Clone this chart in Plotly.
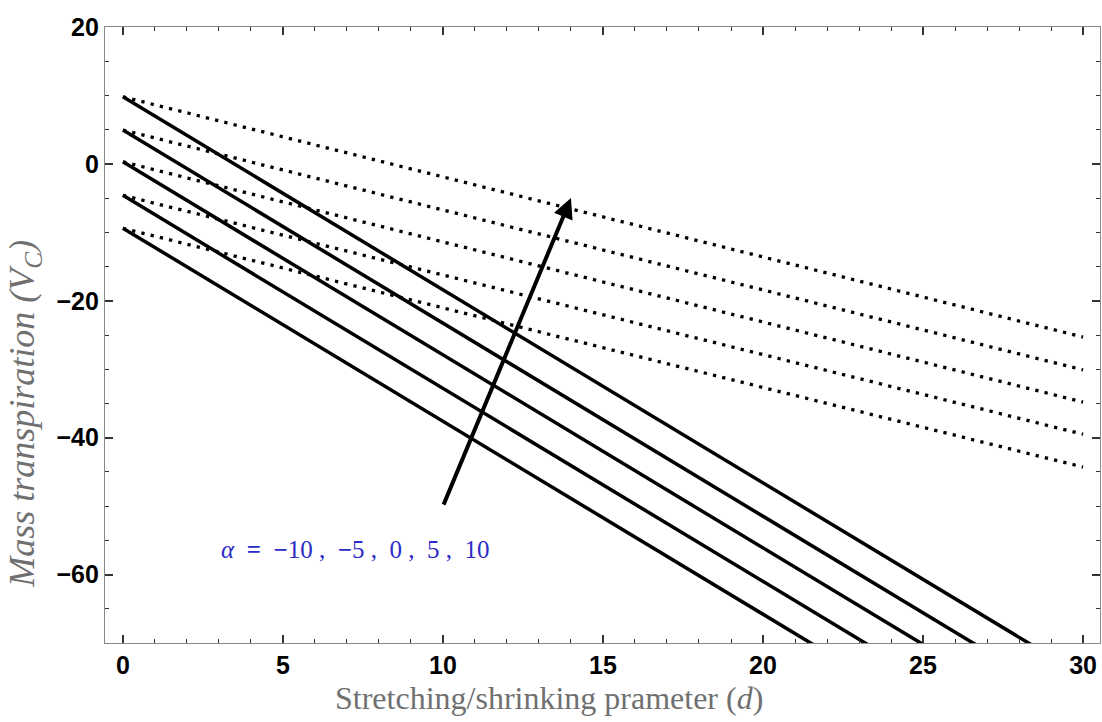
import plotly.graph_objects as go

# Read-off data (values at d = 0, 10, 20, 30)
d_pts = [0, 10, 20, 30]
solid_series = {
    "alpha=10":  [9.8, -18.4, -46.6, -74.8],
    "alpha=5":   [4.95, -23.3, -51.5, -79.7],
    "alpha=0":   [0.3, -27.9, -56.1, -84.3],
    "alpha=-5":  [-4.6, -32.8, -61.0, -89.2],
    "alpha=-10": [-9.4, -37.6, -65.8, -94.0],
}
dotted_series = {
    "alpha=10":  [9.8, -1.9, -13.6, -25.3],
    "alpha=5":   [4.95, -6.7, -18.4, -30.1],
    "alpha=0":   [0.3, -11.4, -23.1, -34.8],
    "alpha=-5":  [-4.6, -16.2, -27.9, -39.5],
    "alpha=-10": [-9.4, -21.0, -32.7, -44.3],
}
x_ticks = [0, 5, 10, 15, 20, 25, 30]
y_ticks = [20, 0, -20, -40, -60]
y_ticktext = ["20", "0", "−20", "−40", "−60"]
arrow_tail = (10, -50)
arrow_head = (14, -5)
label_pos = (7.25, -56.3)
label_text = "<i>α</i>  <b>=</b>  <b>−</b>10 ,  <b>−</b>5 ,  0 ,  5 ,  10"
x_title = "Stretching/shrinking prameter (<i>d</i>)"
y_title = "<i>Mass transpiration (V<sub>C</sub>)</i>"

fig = go.Figure()
for name, ys in solid_series.items():
    fig.add_trace(go.Scatter(x=d_pts, y=ys, mode="lines", name=name,
                             line=dict(color="black", width=3.5), showlegend=False))
for name, ys in dotted_series.items():
    fig.add_trace(go.Scatter(x=d_pts, y=ys, mode="lines", name=name,
                             line=dict(color="black", width=3.3, dash="3.3px,6.2px"),
                             showlegend=False))

fig.add_annotation(x=arrow_head[0], y=arrow_head[1], ax=arrow_tail[0], ay=arrow_tail[1],
                   xref="x", yref="y", axref="x", ayref="y", text="",
                   showarrow=True, arrowhead=2, arrowsize=1.0, arrowwidth=4,
                   arrowcolor="black")
fig.add_annotation(x=label_pos[0], y=label_pos[1], xref="x", yref="y", text=label_text,
                   showarrow=False, font=dict(family="Liberation Serif", size=25, color="#2b2bc8"))
fig.add_annotation(x=0.46, y=1.0, xref="paper", yref="paper", yshift=27, yanchor="bottom",
                   text="(c)", showarrow=False,
                   font=dict(family="Liberation Serif", size=22, color="#555"))
# axis titles
fig.add_annotation(x=13.3, y=0, xref="x", yref="paper", yshift=-55, yanchor="middle",
                   text=x_title, showarrow=False,
                   font=dict(family="Liberation Serif", size=32, color="#707070"))
fig.add_annotation(x=0, y=-36.5, xref="paper", yref="y", xshift=-80, xanchor="center",
                   text=y_title, textangle=-90, showarrow=False,
                   font=dict(family="Liberation Serif", size=36, color="#707070"))

axis_common = dict(
    showline=True, linecolor="#8a8a8a", linewidth=1.2, mirror="ticks",
    ticks="inside", ticklen=8, tickwidth=1.5, tickcolor="#333",
    showgrid=False, zeroline=False,
    tickfont=dict(family="Liberation Sans", size=25, color="black"),
)
fig.update_xaxes(range=[-0.56, 30.53], tickvals=x_ticks,
                 ticktext=["<b>%d</b>" % v for v in x_ticks],
                 minor=dict(dtick=1, ticks="inside", ticklen=4, tickcolor="#333", tickwidth=1),
                 **axis_common)
fig.update_yaxes(range=[-70, 20], tickvals=y_ticks,
                 ticktext=["<b>%s</b>" % t for t in y_ticktext],
                 minor=dict(dtick=5, tick0=0, ticks="inside", ticklen=4, tickcolor="#333", tickwidth=1),
                 **axis_common)
fig.update_layout(width=1102, height=722, margin=dict(l=105, r=2, t=27, b=79),
                  plot_bgcolor="white", paper_bgcolor="white")
fig.write_html("out.html")
